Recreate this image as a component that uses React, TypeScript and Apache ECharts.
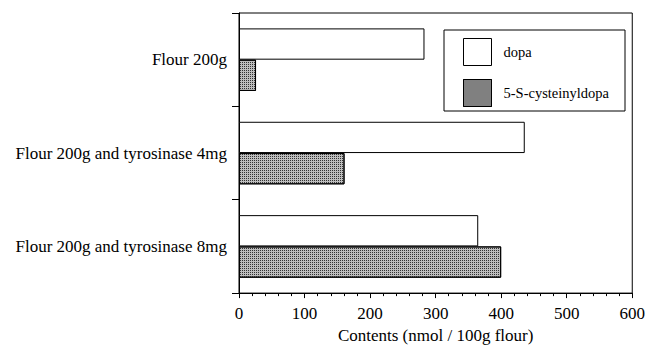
import React, { useEffect, useRef } from "react";
import * as echarts from "echarts";

const categories = [
  "Flour 200g",
  "Flour 200g and tyrosinase 4mg",
  "Flour 200g and tyrosinase 8mg",
];
const dopa = [283, 436, 365];
const cysteinyldopa = [26, 161, 400];
const seriesNames = ["dopa", "5-S-cysteinyldopa"];

const FONT = "'Liberation Serif', 'Times New Roman', serif";

const cysDecal = {
  symbol: "rect",
  symbolSize: 1,
  color: "#333",
  dashArrayX: [1, 1],
  dashArrayY: [1, 1],
  rotation: 0,
};

export default function App() {
  const ref = useRef<HTMLDivElement>(null);
  useEffect(() => {
    if (!ref.current) return;
    const chart = echarts.init(ref.current, undefined, { renderer: "svg" });
    chart.setOption({
      animation: false,
      grid: {
        left: 239,
        right: 14,
        top: 13,
        bottom: 48,
        show: true,
        borderColor: "#000",
        borderWidth: 1,
        backgroundColor: "transparent",
      },
      graphic: [
        {
          type: "rect",
          shape: { x: 444, y: 30, width: 181, height: 81 },
          style: { fill: "#fff", stroke: "#000", lineWidth: 1 },
          z: 5,
        },
      ],
      legend: {
        orient: "vertical",
        left: 444,
        top: 30,
        padding: [8, 14, 5, 19],
        itemWidth: 28,
        itemHeight: 27,
        itemGap: 13,
        icon: "rect",
        z: 10,
        textStyle: {
          fontFamily: FONT,
          fontSize: 14.5,
          color: "#000",
          padding: [0, 0, 0, 7],
        },
        data: [
          {
            name: seriesNames[0],
            itemStyle: { color: "#fff", borderColor: "#000", borderWidth: 1 },
          },
          {
            name: seriesNames[1],
            itemStyle: { color: "#9a9a9a", borderColor: "#000", borderWidth: 1, decal: cysDecal },
          },
        ],
      },
      xAxis: {
        type: "value",
        min: 0,
        max: 600,
        interval: 100,
        name: "Contents (nmol / 100g flour)",
        nameLocation: "middle",
        nameGap: 32,
        nameTextStyle: { fontFamily: FONT, fontSize: 17, color: "#000" },
        axisLine: { show: true, lineStyle: { color: "#000", width: 1 } },
        axisTick: { show: true, length: 5, lineStyle: { color: "#000" } },
        minorTick: { show: true, splitNumber: 5, length: 3, lineStyle: { color: "#000" } },
        splitLine: { show: false },
        axisLabel: { fontFamily: FONT, fontSize: 17, color: "#000", margin: 12 },
      },
      yAxis: {
        type: "category",
        data: categories,
        inverse: true,
        axisLine: { show: true, lineStyle: { color: "#000", width: 1 } },
        axisTick: { show: true, length: 7, lineStyle: { color: "#000" } },
        axisLabel: { fontFamily: FONT, fontSize: 17, color: "#000", margin: 12 },
      },
      series: [
        {
          name: seriesNames[0],
          type: "bar",
          data: dopa,
          barGap: "0%",
          barCategoryGap: "33%",
          itemStyle: { color: "#fff", borderColor: "#000", borderWidth: 1 },
        },
        {
          name: seriesNames[1],
          type: "bar",
          data: cysteinyldopa,
          barGap: "0%",
          barCategoryGap: "33%",
          itemStyle: { color: "#bdbdbd", borderColor: "#000", borderWidth: 1, decal: cysDecal },
        },
      ],
    });
    return () => chart.dispose();
  }, []);
  return <div ref={ref} style={{ width: 648, height: 349, position: "absolute", left: 0, top: 0 }} />;
}
